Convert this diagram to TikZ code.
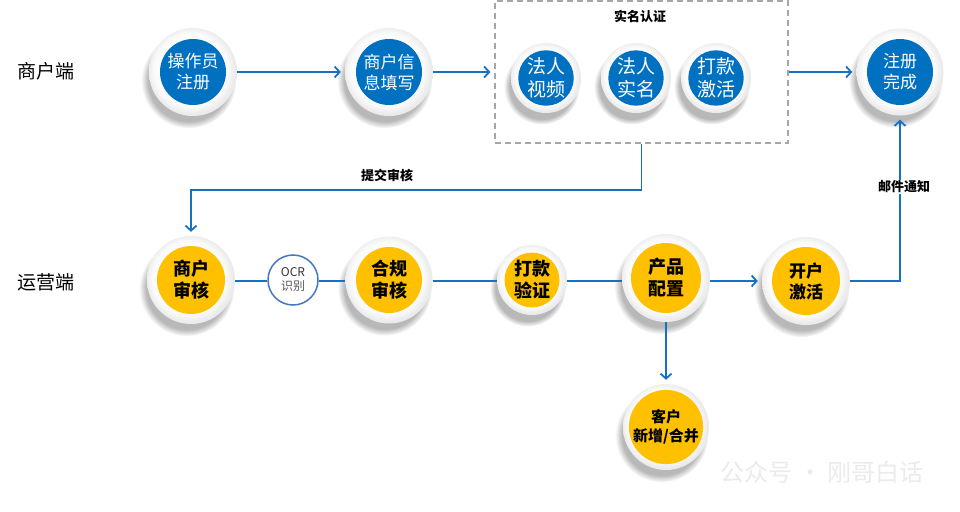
\documentclass[tikz,border=0pt]{standalone}
\usepackage{fontspec}
\setmainfont{Noto Sans CJK SC}
\usetikzlibrary{shadows,arrows.meta}
\definecolor{cblue}{RGB}{0,112,192}
\definecolor{cyel}{RGB}{255,192,0}
\definecolor{lnblue}{RGB}{22,112,196}
\definecolor{ocrblue}{RGB}{70,120,190}
\pgfdeclareradialshading{ringshade}{\pgfpoint{-2bp}{2bp}}{color(0bp)=(white); color(17bp)=(white); color(21bp)=(gray!4); color(25bp)=(gray!16); color(50bp)=(gray!16)}
\begin{document}
\begin{tikzpicture}[x=1pt,y=-1pt,
  ring/.style={circle, inner sep=0pt, minimum size=#1, shading=ringshade,
    circular drop shadow={shadow xshift=-4pt, shadow yshift=-8pt, shadow scale=1.08, fill=black!28}},
  blueball/.style={circle, inner sep=0pt, minimum size=#1, fill=cblue, text=white, align=center,
    font=\fontsize{17}{21}\selectfont},
  yelball/.style={circle, inner sep=0pt, minimum size=#1, fill=cyel, text=black, align=center,
    font=\bfseries\fontsize{18}{22}\selectfont},
  arr/.style={draw=lnblue, line width=1.8pt, -{Straight Barb[length=5pt,width=11pt]}, shorten >=4pt},
  ln/.style={draw=lnblue, line width=1.8pt},
  lbl/.style={font=\bfseries\fontsize{13}{15}\selectfont},
  side/.style={font=\fontsize{19}{22}\selectfont}]
\useasboundingbox (0,0) rectangle (960,511);
\fill[white] (0,0) rectangle (960,511);

% dashed group box
\node[draw=gray!70, dash pattern=on 6pt off 4pt, line width=1.3pt, minimum width=293pt,
  minimum height=142pt, inner sep=0pt] (box) at (641.5,72) {};
\node[lbl] (boxt) at (640,16) {实名认证};

% side labels
\node[side] (s1) at (46,71) {商户端};
\node[side] (s2) at (46,282) {运营端};

% top row
\node[ring=88pt] (op) at (193,72) {};
\node[blueball=66pt] (opt) at (op) {操作员\\注册};
\node[ring=88pt] (info) at (389,72) {};
\node[blueball=66pt] (infot) at (info) {商户信\\息填写};
\node[ring=70pt] (v) at (546,78) {};
\node[blueball=53pt, font=\fontsize{19}{23}\selectfont] (vt) at (v) {法人\\视频};
\node[ring=70pt] (rn) at (636,78) {};
\node[blueball=54pt, font=\fontsize{19}{23}\selectfont] (rnt) at (rn) {法人\\实名};
\node[ring=70pt] (act) at (716,78) {};
\node[blueball=54pt, font=\fontsize{19}{23}\selectfont] (actt) at (act) {打款\\激活};
\node[ring=87pt] (done) at (900,72) {};
\node[blueball=66pt] (donet) at (done) {注册\\完成};

% bottom row
\node[ring=88pt] (mer) at (191,280) {};
\node[yelball=68pt] (mert) at (mer) {商户\\审核};
\node[circle, draw=ocrblue, line width=1.5pt, fill=white, minimum size=50pt, inner sep=0pt,
  align=center, font=\fontsize{12}{14}\selectfont, text=black!80] (ocr) at (293,280)
  {OCR\\{\color{black!65}识别}};
\node[ring=87pt] (comp) at (389,280) {};
\node[yelball=66pt] (compt) at (comp) {合规\\审核};
\node[ring=70pt] (pay) at (532,280) {};
\node[yelball=55pt] (payt) at (pay) {打款\\验证};
\node[ring=88pt] (prod) at (666,278) {};
\node[yelball=70pt] (prodt) at (prod) {产品\\配置};
\node[ring=88pt] (open) at (806,281) {};
\node[yelball=68pt, font=\bfseries\fontsize{17}{21}\selectfont] (opent) at (open) {开户\\激活};
\node[ring=86pt] (cust) at (666,427) {};
\node[yelball=70pt, font=\bfseries\fontsize{15}{19}\selectfont] (custt) at (cust) {客户\\新增/合并};

% connectors
\draw[arr] (op) -- (info);
\draw[arr] (info.east) -- (box.west);
\draw[arr] (box.east) -- (done.west);
\draw[arr] (box.south) -- ++(0,46) -| (mer.north);
\node[lbl] (sub) at (387,175) {提交审核};
\draw[ln] (mer.east |- 0,281) -- (ocr.west |- 0,281);
\draw[ln] (ocr.east |- 0,281) -- (comp.west |- 0,281);
\draw[ln] (comp.east |- 0,281) -- (pay.west |- 0,281);
\draw[ln] (pay.east |- 0,281) -- (prod.west |- 0,281);
\draw[arr] (prod.east |- 0,281) -- (open.west |- 0,281);
\draw[arr] (open.east) -| (done.south);
\draw[arr] (prod.south) -- (cust.north);
\node[lbl, fill=white, inner sep=1pt] (mail) at (904,187) {邮件通知};

% watermark
\node[font=\fontsize{24}{24}\selectfont, text=gray!16] (wm) at (822,472) {公众号 · 刚哥白话};
\end{tikzpicture}
\end{document}
